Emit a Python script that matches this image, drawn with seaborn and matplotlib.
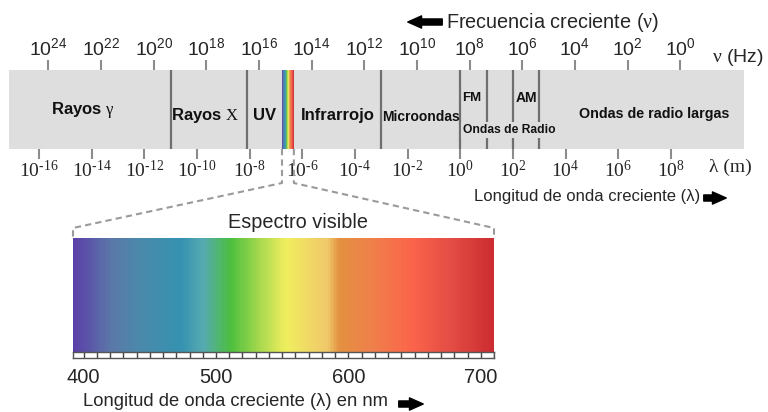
import numpy as np
import matplotlib.pyplot as plt
import seaborn as sns
from matplotlib.colors import LinearSegmentedColormap
from matplotlib.lines import Line2D
from matplotlib.patches import FancyArrowPatch

# Exponents shown on the band (top: frequency in Hz, bottom: wavelength in m)
freq_exp = [24, 22, 20, 18, 16, 14, 12, 10, 8, 6, 4, 2, 0]
wave_exp = [-16, -14, -12, -10, -8, -6, -4, -2, 0, 2, 4, 6, 8]
freq_offset = 8.36  # log10(lambda) = offset - log10(nu)

# Band extent and region boundaries, in log10(wavelength / m)
band_range = [-17.14, 10.78]
bounds = [-11.0, -8.1, -3.0, 0.0, 1.0, 2.0, 3.0]
visible_band = [-6.77, -6.32]

# Region names: text, log10(lambda) centre, height in band (0-1), size
regions = [
    (r"Rayos $\mathrm{\gamma}$", -14.33, 0.50, 12),
    (r"Rayos $\mathrm{X}$", -9.70, 0.43, 12),
    ("UV", -7.42, 0.43, 12),
    ("Infrarrojo", -4.64, 0.43, 12),
    ("Microondas", -1.49, 0.40, 10),
    ("FM", 0.45, 0.65, 9.5),
    ("AM", 2.53, 0.65, 10),
    ("Ondas de radio largas", 7.36, 0.44, 10.3),
]

# Visible spectrum: wavelength (nm) and colour
vis_nm = [392, 420, 443, 473, 490, 511, 533, 553, 584, 594, 616, 649, 679, 710]
vis_colors = ["#5a3fa8", "#5b78a8", "#4a8aab", "#3591b0", "#55aab0", "#4cbf3e",
              "#a8d94e", "#f0ee5e", "#f0c86a", "#e39040", "#ee824a", "#fb644a",
              "#e24c44", "#cc2c30"]
nm_labels = [400, 500, 600, 700]
ruler_step = 10

sns.set_style("white")
plt.rcParams['font.family'] = ['Liberation Sans', 'DejaVu Sans']
plt.rcParams.update({
    'mathtext.fontset': 'custom',
    'mathtext.rm': 'Liberation Serif',
    'mathtext.it': 'Liberation Serif:italic',
    'mathtext.bf': 'Liberation Serif:bold',
    'mathtext.sf': 'Liberation Sans',
})

W, H = 768, 412
fig = plt.figure(figsize=(W / 100, H / 100), dpi=100)


def box(x0, y0, x1, y1):
    # pixel box (top-left origin) -> figure fraction rect
    return [x0 / W, 1 - y1 / H, (x1 - x0) / W, (y1 - y0) / H]


lo, hi = vis_nm[0], vis_nm[-1]
cmap = LinearSegmentedColormap.from_list(
    "vis", [((n - lo) / (hi - lo), c) for n, c in zip(vis_nm, vis_colors)])

# ---- electromagnetic band ----
ax = fig.add_axes(box(9, 70, 744, 149))
ax.set_facecolor('#dedede')
for b in bounds:
    ax.axvline(b, color='#6f6f6f', lw=1.6, zorder=2)
ax.imshow(np.linspace(0, 1, 50)[None, :], extent=[*visible_band, 0, 1],
          aspect='auto', cmap=cmap, zorder=3)
ax.set_xlim(band_range)
ax.set_ylim(0, 1)
for s in ax.spines.values():
    s.set_visible(False)
ax.set_yticks([])
ax.set_xticks(wave_exp, [rf"$\mathrm{{10^{{\text{{-}}{abs(e)}}}}}$" if e < 0
                         else rf"$\mathrm{{10^{{{e}}}}}$" for e in wave_exp])
ax.tick_params(axis='x', bottom=True, length=7, width=1.5, color='#8c8c8c',
               labelsize=14, pad=1)

secax = ax.secondary_xaxis('top', functions=(lambda v: freq_offset - v,
                                             lambda v: freq_offset - v))
secax.set_xticks(freq_exp, [rf"$\mathsf{{10^{{{e}}}}}$" for e in freq_exp])
secax.tick_params(axis='x', top=True, length=7, width=1.5, color='#8c8c8c',
                  labelsize=14, pad=1)
secax.spines['top'].set_visible(False)

for txt, x, y, fs in regions:
    ax.text(x, y, txt, ha='center', va='center', fontsize=fs,
            fontweight='bold', color='#111111', zorder=4)
ax.text(1.85, 0.24, "Ondas de Radio", ha='center', va='center', fontsize=8.7,
        fontweight='bold', color='#111111', zorder=4,
        bbox=dict(facecolor='#dedede', edgecolor='none', pad=1.5))

fig.text(738 / W, 1 - 57 / H, r"$\mathrm{\nu}$ (Hz)", ha='center', va='center',
         fontsize=14)
fig.text(730 / W, 1 - 167 / H, "λ (m)", ha='center', va='center', fontsize=14,
         family='Liberation Serif')

# ---- visible spectrum ----
ax_v = fig.add_axes(box(73, 238, 494, 352))
grid = np.linspace(lo, hi, 400)[None, :]
sns.heatmap(grid, ax=ax_v, cmap=cmap, vmin=lo, vmax=hi, cbar=False,
            xticklabels=False, yticklabels=False, linewidths=0, rasterized=True)

ax_r = fig.add_axes(box(73, 352, 494, 358))
ax_r.set_xlim(lo, hi)
ax_r.set_ylim(0, 1)
ax_r.vlines(range(nm_labels[0], hi + 1, ruler_step), 0, 1, color='#444444', lw=1)
for s in ax_r.spines.values():
    s.set_color('#555555')
    s.set_linewidth(1)
ax_r.set_yticks([])
ax_r.set_xticks(nm_labels)
ax_r.tick_params(axis='x', bottom=False, length=0, labelsize=14.5, pad=7)

fig.text(298 / W, 1 - 223 / H, "Espectro visible", ha='center', va='center',
         fontsize=14.3)

# ---- dashed zoom lines from the visible strip to the spectrum box ----
xl = ax.transData.transform((visible_band[0], 0))[0]
xr = ax.transData.transform((visible_band[1], 0))[0]
y_band = ax.transData.transform((0, 0))[1]
pos = ax_v.get_position()
bx0, bx1, by1 = pos.x0 * W, pos.x1 * W, pos.y1 * H
y_knee = H - 183
y_corner = by1 + 10
for xs, xc in [(xl, bx0), (xr, bx1)]:
    fig.add_artist(Line2D([xs / W, xs / W, xc / W, xc / W],
                          [y_band / H, y_knee / H, y_corner / H, by1 / H],
                          transform=fig.transFigure, color='#9a9a9a', lw=1.5,
                          ls=(0, (3, 2))))


# ---- arrows and captions ----
def arrow(x0, x1, y):
    fig.add_artist(FancyArrowPatch((x0 / W, 1 - y / H), (x1 / W, 1 - y / H),
                                   transform=fig.transFigure,
                                   arrowstyle='simple,head_length=0.9,head_width=0.8,tail_width=0.4',
                                   mutation_scale=11, color='black'))


fig.text(446 / W, 1 - 22 / H, r"Frecuencia creciente ($\mathrm{\nu}$)",
         ha='left', va='center', fontsize=14.3)
arrow(445, 405, 22)
fig.text(474 / W, 1 - 197 / H, "Longitud de onda creciente (λ)",
         ha='left', va='center', fontsize=12)
arrow(701, 729, 198)
fig.text(83 / W, 1 - 402 / H, "Longitud de onda creciente (λ) en nm",
         ha='left', va='center', fontsize=13.2)
arrow(396, 426, 404)

fig.savefig("out.png", dpi=100)
